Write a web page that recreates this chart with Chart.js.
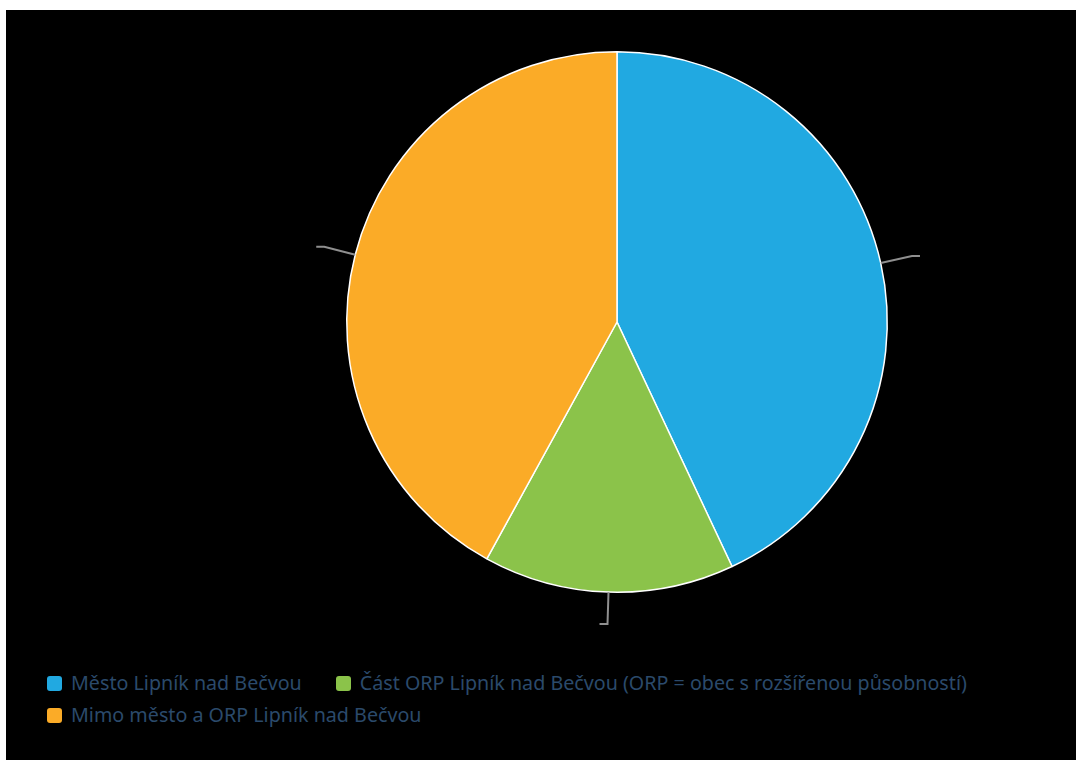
<!DOCTYPE html>
<html lang="cs">
<head>
    <meta charset="UTF-8">
    <title>Původ účastníků</title>
    <script src="https://cdn.jsdelivr.net/npm/chart.js@4.4.1/dist/chart.umd.min.js"></script>
    <style>
        body {
            margin: 0;
            background: #fff;
            font-family: "Noto Sans", sans-serif;
        }
        .frame {
            position: absolute;
            left: 6px;
            top: 10px;
            width: 1070px;
            height: 750px;
            background: #000;
        }
        .chart-box {
            position: absolute;
            left: 0;
            top: 0;
            width: 1070px;
            height: 650px;
        }
        #legend {
            position: absolute;
            left: 41px;
            top: 661px;
            width: 1010px;
            display: flex;
            flex-wrap: wrap;
            row-gap: 8px;
        }
        .item {
            display: flex;
            align-items: center;
            margin-right: 34px;
            font-size: 19.7px;
            line-height: 24px;
            color: #2b4a6b;
        }
        .swatch {
            width: 15px;
            height: 15px;
            border-radius: 3px;
            margin-right: 9px;
        }
    </style>
</head>
<body>
    <div class="frame">
        <div class="chart-box">
            <canvas id="pieChart" width="1070" height="650"></canvas>
        </div>
        <div id="legend"></div>
    </div>

    <script>
        const categories = [
            'Město Lipník nad Bečvou',
            'Část ORP Lipník nad Bečvou (ORP = obec s rozšířenou působností)',
            'Mimo město a ORP Lipník nad Bečvou'
        ];
        const shares = [43, 15, 42];
        const colors = ['#21a9e1', '#8bc34a', '#fbab27'];

        // short gray connector from each slice edge, like empty data labels
        const connectors = {
            id: 'connectors',
            afterDatasetsDraw(chart) {
                const c = chart.ctx;
                const meta = chart.getDatasetMeta(0);
                c.save();
                c.strokeStyle = '#8f8f8f';
                c.lineWidth = 2;
                meta.data.forEach(arc => {
                    const p = arc.getProps(['x', 'y', 'startAngle', 'endAngle', 'outerRadius'], true);
                    const mid = (p.startAngle + p.endAngle) / 2;
                    const r = p.outerRadius;
                    const x0 = p.x + Math.cos(mid) * r;
                    const y0 = p.y + Math.sin(mid) * r;
                    const x1 = p.x + Math.cos(mid) * (r + 32);
                    const y1 = p.y + Math.sin(mid) * (r + 32);
                    const side = x1 < p.x ? -1 : 1;
                    c.beginPath();
                    c.moveTo(x0, y0);
                    c.lineTo(x1, y1);
                    c.lineTo(x1 + side * 8, y1);
                    c.stroke();
                });
                c.restore();
            }
        };

        const chart = new Chart(document.getElementById('pieChart'), {
            type: 'pie',
            data: {
                labels: categories,
                datasets: [{
                    data: shares,
                    backgroundColor: colors,
                    borderColor: '#ffffff',
                    borderWidth: 1.5
                }]
            },
            options: {
                responsive: false,
                animation: false,
                layout: {
                    padding: { top: 41, bottom: 67, left: 152, right: 0 }
                },
                plugins: {
                    legend: { display: false },
                    tooltip: { enabled: false }
                }
            },
            plugins: [connectors]
        });

        // legend built from the chart's own labels and colors
        const legendEl = document.getElementById('legend');
        chart.data.labels.forEach((label, i) => {
            const item = document.createElement('div');
            item.className = 'item';
            const sw = document.createElement('span');
            sw.className = 'swatch';
            sw.style.background = colors[i];
            item.appendChild(sw);
            item.appendChild(document.createTextNode(label));
            legendEl.appendChild(item);
        });
    </script>
</body>
</html>
